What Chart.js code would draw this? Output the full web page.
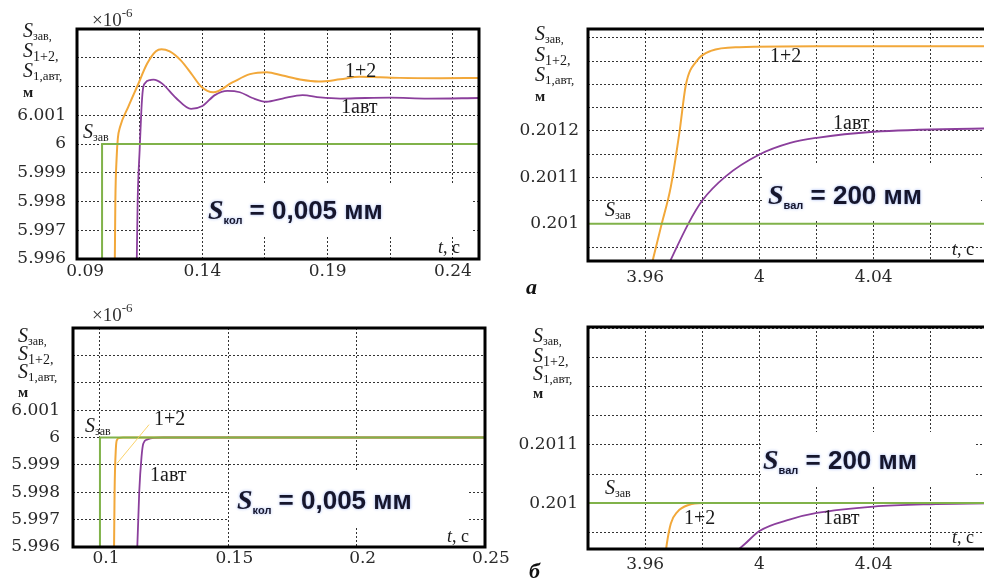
<!DOCTYPE html>
<html>
<head>
<meta charset="utf-8">
<script src="https://cdn.jsdelivr.net/npm/chart.js@4.4.1/dist/chart.umd.min.js"></script>
<style>
  html, body { margin: 0; padding: 0; background: #fff; width: 984px; height: 583px; overflow: hidden; }
  canvas { position: absolute; }
  .tag { position: absolute; font: italic bold 22px "Liberation Serif", serif; color: #111; }
</style>
</head>
<body>
<canvas id="a1" width="490" height="290" style="left:0;top:0"></canvas>
<canvas id="a2" width="530" height="290" style="left:490px;top:0"></canvas>
<canvas id="b1" width="520" height="293" style="left:0;top:290px"></canvas>
<canvas id="b2" width="530" height="293" style="left:490px;top:290px"></canvas>
<div class="tag" style="left:526px;top:274px">а</div>
<div class="tag" style="left:529px;top:558px">б</div>
<script>
// --- panel а, left (S = 0.005 мм), values ×10^-6 ---
const tA1Zav = [0.1, 0.1, 0.26];
const sA1Zav = [5.99, 6, 6];
const tA1Sum = [0.1050, 0.1053, 0.1058, 0.1063, 0.1072, 0.1105, 0.114, 0.118, 0.1215, 0.1237, 0.127, 0.1315, 0.136, 0.1395, 0.1444, 0.152, 0.159, 0.1658, 0.172, 0.179, 0.1864, 0.195, 0.2029, 0.211, 0.2188, 0.235, 0.2504];
const sA1Sum = [5.995, 5.998, 5.9995, 6.0002, 6.0006, 6.0013, 6.002, 6.0028, 6.00323, 6.0033, 6.00322, 6.0029, 6.0024, 6.002, 6.0018, 6.00214, 6.00243, 6.0025, 6.00238, 6.00224, 6.00217, 6.00225, 6.00234, 6.00232, 6.0023, 6.00229, 6.0023];
const tA1Aut = [0.1137, 0.1142, 0.1150, 0.1157, 0.1163, 0.1172, 0.1195, 0.1205, 0.124, 0.1295, 0.1355, 0.140, 0.145, 0.150, 0.155, 0.160, 0.1655, 0.172, 0.180, 0.187, 0.195, 0.205, 0.215, 0.23, 0.2504];
const sA1Aut = [5.995, 5.998, 5.9998, 6.0012, 6.0019, 6.00212, 6.00223, 6.00224, 6.0021, 6.0016, 6.00122, 6.00132, 6.0017, 6.00185, 6.0018, 6.0016, 6.00147, 6.00158, 6.0017, 6.00162, 6.00158, 6.0016, 6.00161, 6.00158, 6.0016];
const xA1Grid = [0.09, 0.115, 0.14, 0.165, 0.19, 0.215, 0.24];
const xA1Labels = [0.09, 0.14, 0.19, 0.24];
const yA1Grid = [5.996, 5.997, 5.998, 5.999, 6, 6.001, 6.002, 6.003];
const yA1Labels = [5.996, 5.997, 5.998, 5.999, 6, 6.001];

// --- panel а, right (S = 200 мм) ---
const tA2Zav = [3.93, 4.1];
const sA2Zav = [0.201, 0.201];
const tA2Sum = [3.9622, 3.9656, 3.969, 3.972, 3.9743, 3.978, 3.983, 3.993, 4.02, 4.09];
const sA2Sum = [0.20091, 0.200995, 0.20108, 0.201196, 0.2013, 0.20135, 0.201372, 0.20138, 0.201382, 0.201382];
const tA2Aut = [3.968, 3.9751, 3.98, 3.9882, 4.0, 4.0108, 4.0201, 4.04, 4.0783, 4.09];
const sA2Aut = [0.20091, 0.201, 0.20105, 0.201102, 0.201149, 0.201174, 0.201185, 0.201198, 0.201205, 0.201206];
const xA2Grid = [3.96, 3.98, 4, 4.02, 4.04, 4.06, 4.08];
const xA2Labels = [3.96, 4, 4.04];
const yA2Grid = [0.20095, 0.201, 0.20105, 0.2011, 0.20115, 0.2012, 0.20125, 0.2013, 0.20135, 0.2014];
const yA2Labels = [0.201, 0.2011, 0.2012];

// --- panel б, left ---
const tB1Zav = [0.1, 0.1, 0.26];
const sB1Zav = [5.99, 6, 6];
const tB1Sum = [0.1054, 0.1057, 0.1062, 0.1067, 0.1075, 0.109, 0.12, 0.25];
const sB1Sum = [5.995, 5.998, 5.9996, 5.99992, 5.99998, 6, 6, 6];
const tB1Aut = [0.1142, 0.1153, 0.1162, 0.1169, 0.1185, 0.121, 0.1245, 0.25];
const sB1Aut = [5.995, 5.998, 5.9993, 5.99978, 5.99993, 5.99999, 6, 6];
const xB1Grid = [0.1, 0.15, 0.2, 0.25];
const xB1Labels = [0.1, 0.15, 0.2, 0.25];
const yB1Grid = [5.996, 5.997, 5.998, 5.999, 6, 6.001, 6.002, 6.003];
const yB1Labels = [5.996, 5.997, 5.998, 5.999, 6, 6.001];

// --- panel б, right ---
const tB2Zav = [3.93, 4.1];
const sB2Zav = [0.201, 0.201];
const tB2Sum = [3.9671, 3.9676, 3.969, 3.9713, 3.9754, 3.98, 4.09];
const sB2Sum = [0.20091, 0.20093, 0.200965, 0.200985, 0.200997, 0.201, 0.201];
const tB2Aut = [3.9903, 3.995, 4.0, 4.0108, 4.0201, 4.04, 4.06, 4.09];
const sB2Aut = [0.20091, 0.20093, 0.200952, 0.200972, 0.200983, 0.200994, 0.200998, 0.201];
const xB2Grid = [3.96, 3.98, 4, 4.02, 4.04, 4.06, 4.08];
const xB2Labels = [3.96, 4, 4.04];
const yB2Grid = [0.20095, 0.201, 0.20105, 0.2011, 0.20115, 0.2012, 0.20125, 0.2013];
const yB2Labels = [0.201, 0.2011];

const ORANGE = '#f2a83a';
const PURPLE = '#8b3f9c';
const GREEN = '#80b24a';
const SERIF = '"Liberation Serif", "DejaVu Serif", serif';
const SANS = '"Liberation Sans", Arial, sans-serif';

function pts(t, v) { return t.map((x, i) => ({ x: x, y: v[i] })); }

function rich(ctx, x, y, parts) {
  ctx.save();
  ctx.textBaseline = 'middle';
  ctx.textAlign = 'left';
  for (const p of parts) {
    ctx.font = p[1];
    ctx.fillStyle = p[3] || '#1a1a1a';
    ctx.fillText(p[0], x, y + (p[2] || 0));
    x += ctx.measureText(p[0]).width;
  }
  ctx.restore();
}

// the stacked axis title, same in every panel
function yTitle(ctx, x, ys) {
  const S = ['S', 'italic 20px ' + SERIF];
  rich(ctx, x, ys[0], [S, ['зав,', '12px ' + SERIF, 5]]);
  rich(ctx, x, ys[1], [S, ['1+2,', '14px ' + SERIF, 5]]);
  rich(ctx, x, ys[2], [S, ['1,авт,', '13px ' + SERIF, 5]]);
  rich(ctx, x, ys[3], [['м', 'bold 15px ' + SERIF]]);
}

function fmt(v) { return String(+v.toFixed(6)); }

function makePanel(id, c) {
  const decor = {
    id: 'decor' + id,
    beforeDatasetsDraw(chart) {
      const ctx = chart.ctx;
      ctx.save();
      ctx.fillStyle = '#fff';
      ctx.fillRect(c.box[0], c.box[1], c.box[2] - c.box[0], c.box[3] - c.box[1]);
      ctx.restore();
    },
    afterDatasetsDraw(chart) {
      if (!c.leader) return;
      const xs = chart.scales.x, ys = chart.scales.y, ctx = chart.ctx;
      ctx.save();
      ctx.strokeStyle = 'rgba(250,205,90,0.9)';
      ctx.lineWidth = 1;
      ctx.beginPath();
      ctx.moveTo(xs.getPixelForValue(c.leader[0]), ys.getPixelForValue(c.leader[1]));
      ctx.lineTo(xs.getPixelForValue(c.leader[2]), ys.getPixelForValue(c.leader[3]));
      ctx.stroke();
      ctx.restore();
    },
    afterDraw(chart) {
      const ctx = chart.ctx, a = chart.chartArea;
      ctx.save();
      ctx.strokeStyle = '#000';
      ctx.lineWidth = 3;
      ctx.strokeRect(a.left, a.top, a.right - a.left, a.bottom - a.top);
      ctx.restore();
      yTitle(ctx, c.title[0], c.title.slice(1));
      if (c.exp) rich(ctx, c.exp[0], c.exp[1], [['×10', '19px ' + SERIF, 0, '#333'], ['-6', '13px ' + SERIF, -7, '#333']]);
      rich(ctx, c.zav[0], c.zav[1], [['S', 'italic 20px ' + SERIF], ['зав', '12px ' + SERIF, 5]]);
      rich(ctx, c.sum[0], c.sum[1], [['1+2', '20px ' + SERIF]]);
      rich(ctx, c.aut[0], c.aut[1], [['1авт', '20px ' + SERIF]]);
      rich(ctx, c.tlab[0], c.tlab[1], [['t', 'italic 18px ' + SERIF], [', с', '18px ' + SERIF]]);
      ctx.save();
      ctx.shadowColor = 'rgba(40,90,230,0.45)';
      ctx.shadowBlur = 3;
      const ink = '#16162c';
      rich(ctx, c.big[0], c.big[1], [
        ['S', 'italic bold 28px ' + SERIF, 0, ink],
        [c.big[2], 'bold 11px ' + SANS, 9, ink],
        [' = ' + c.big[3], 'bold 26px ' + SANS, 0, ink]
      ]);
      ctx.restore();
    }
  };

  // the reference line goes first so that it is drawn on top
  const ds = [
    { data: pts(c.zavT, c.zavS), borderColor: GREEN, borderWidth: 2, tension: 0 },
    { data: pts(c.sumT, c.sumS), borderColor: ORANGE, borderWidth: 2, cubicInterpolationMode: 'monotone' },
    { data: pts(c.autT, c.autS), borderColor: PURPLE, borderWidth: 1.8, cubicInterpolationMode: 'monotone' }
  ].map(d => Object.assign({ pointRadius: 0, fill: false, clip: 0 }, d));

  const labelOf = (list, lead) => (v) => list.some(l => Math.abs(l - v) < 1e-9) ? ((lead && Math.abs(v - list[0]) < 1e-9 ? lead : '') + fmt(v)) : '';
  const tickFont = { family: 'DejaVu Serif', size: 17 };

  new Chart(document.getElementById(id), {
    type: 'line',
    data: { datasets: ds },
    options: {
      responsive: false,
      animation: false,
      devicePixelRatio: 1,
      layout: { padding: c.pad },
      plugins: { legend: { display: false }, tooltip: { enabled: false } },
      scales: {
        x: {
          type: 'linear',
          min: c.xr[0], max: c.xr[1],
          afterBuildTicks: ax => { ax.ticks = c.xGrid.map(v => ({ value: v })); },
          afterFit: ax => { ax.height = c.xh; },
          grid: { color: '#333', lineWidth: 1, drawTicks: false },
          border: { display: false, dash: [2, 2] },
          ticks: { autoSkip: false, maxRotation: 0, padding: c.xpad, labelOffset: c.xoff || 0, color: '#2a2a2a', font: tickFont,
                   callback: labelOf(c.xLabels, c.lead) }
        },
        y: {
          type: 'linear',
          min: c.yr[0], max: c.yr[1],
          afterBuildTicks: ax => { ax.ticks = c.yGrid.map(v => ({ value: v })); },
          afterFit: ax => { ax.width = c.yw; },
          grid: { color: '#333', lineWidth: 1, drawTicks: false },
          border: { display: false, dash: [2, 2] },
          ticks: { autoSkip: false, padding: c.ypad, color: '#2a2a2a', font: tickFont,
                   callback: labelOf(c.yLabels) }
        }
      }
    },
    plugins: [decor]
  });
}

makePanel('a1', {
  zavT: tA1Zav, zavS: sA1Zav, sumT: tA1Sum, sumS: sA1Sum, autT: tA1Aut, autS: sA1Aut,
  xGrid: xA1Grid, xLabels: xA1Labels, yGrid: yA1Grid, yLabels: yA1Labels, lead: '   ',
  xr: [0.09, 0.2504], yr: [5.996, 6.004],
  pad: { top: 29, right: 11, left: 0, bottom: 0 }, yw: 77, xh: 31, xpad: 2, ypad: 11,
  box: [204, 185, 471, 236],
  title: [23, 32, 52, 72, 93], exp: [92, 21],
  zav: [83, 133], sum: [345, 72], aut: [341, 108], tlab: [438, 248],
  big: [208, 212, 'кол', '0,005 мм']
});

makePanel('a2', {
  zavT: tA2Zav, zavS: sA2Zav, sumT: tA2Sum, sumS: sA2Sum, autT: tA2Aut, autS: sA2Aut,
  xGrid: xA2Grid, xLabels: xA2Labels, yGrid: yA2Grid, yLabels: yA2Labels,
  xr: [3.94, 4.09], yr: [0.20092, 0.201419],
  pad: { top: 29, right: 3.5, left: 0, bottom: 0 }, yw: 98, xh: 29, xpad: 6, ypad: 9,
  box: [273, 165, 491, 221],
  title: [45, 35, 56, 76, 97],
  zav: [115, 211], sum: [280, 57], aut: [343, 124], tlab: [462, 250],
  big: [278, 197, 'вал', '200 мм']
});

makePanel('b1', {
  zavT: tB1Zav, zavS: sB1Zav, sumT: tB1Sum, sumS: sB1Sum, autT: tB1Aut, autS: sB1Aut,
  xGrid: xB1Grid, xLabels: xB1Labels, yGrid: yB1Grid, yLabels: yB1Labels, xoff: 6,
  xr: [0.0895, 0.25], yr: [5.996, 6.004],
  pad: { top: 38, right: 35, left: 0, bottom: 0 }, yw: 73, xh: 36, xpad: 1, ypad: 13,
  box: [229, 182, 468, 237],
  title: [18, 47, 65, 83, 103], exp: [92, 26],
  zav: [85, 137], sum: [154, 130], aut: [150, 186], tlab: [447, 247],
  big: [237, 212, 'кол', '0,005 мм'],
  leader: [0.10662, 5.99905, 0.11913, 6.00047]
});

makePanel('b2', {
  zavT: tB2Zav, zavS: sB2Zav, sumT: tB2Sum, sumS: sB2Sum, autT: tB2Aut, autS: sB2Aut,
  xGrid: xB2Grid, xLabels: xB2Labels, yGrid: yB2Grid, yLabels: yB2Labels,
  xr: [3.94, 4.09], yr: [0.200921, 0.201303],
  pad: { top: 37, right: 3.5, left: 0, bottom: 0 }, yw: 98, xh: 34, xpad: 5, ypad: 10,
  box: [271, 142, 485, 197],
  title: [43, 47, 67, 85, 104],
  zav: [115, 199], sum: [194, 229], aut: [333, 229], tlab: [462, 248],
  big: [273, 172, 'вал', '200 мм']
});
</script>
</body>
</html>
